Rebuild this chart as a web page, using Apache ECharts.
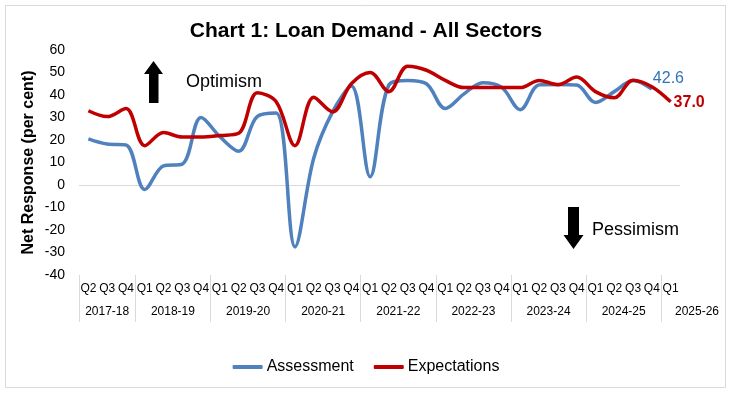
<!DOCTYPE html>
<html>
<head>
<meta charset="utf-8">
<script src="https://cdn.jsdelivr.net/npm/echarts@6/dist/echarts.min.js"></script>
<style>
html,body{margin:0;padding:0;background:#fff;}
#c{width:732px;height:395px;}
</style>
</head>
<body>
<div id="c"></div>
<script>
// ---- data ----
const quarters = ['Q2','Q3','Q4',
  'Q1','Q2','Q3','Q4','Q1','Q2','Q3','Q4','Q1','Q2','Q3','Q4',
  'Q1','Q2','Q3','Q4','Q1','Q2','Q3','Q4','Q1','Q2','Q3','Q4',
  'Q1','Q2','Q3','Q4','Q1'];
const years = ['2017-18','2018-19','2019-20','2020-21','2021-22','2022-23','2023-24','2024-25','2025-26'];
const yearSizes = [3,4,4,4,4,4,4,4,1];
const assessment = [20.5,18.2,17.8,-2,8.5,9.3,30,21.5,15,30.5,32,-27.5,12,32.5,44,3.7,
  44.5,46.5,45,34,40.5,45.5,43.5,33.5,44.5,44.7,44.4,36.7,41.5,46.5,42.6];
const expectations = [33,30.4,34,17.5,23.3,21.3,21.3,22,23,41,37,17.5,39,32.5,45,50,
  41.5,52.8,51,46.5,43.3,43.3,43.3,43.3,46.5,44.6,48,41.5,38.8,46.6,43.7,37.0];
const yTicks = [-40,-30,-20,-10,0,10,20,30,40,50,60];

// ---- build ----
const boundaries = [0];
const centers = [];
const yearAt = {};
let acc = 0;
yearSizes.forEach((s,i)=>{
  const c = (i === yearSizes.length-1) ? acc + s : acc + s/2;
  centers.push(c); yearAt[c] = years[i];
  acc += s;
  if (i < yearSizes.length-1) boundaries.push(acc);
});
const nQ = quarters.length;

const blue = '#4F81BD', red = '#C00000';
const chart = echarts.init(document.getElementById('c'), null, {renderer:'canvas'});
const FONT = '"Liberation Sans", Arial, sans-serif';
chart.setOption({
  animation:false,
  backgroundColor:'#fff',
  textStyle:{fontFamily:FONT},
  title:{text:'Chart 1: Loan Demand - All Sectors', left:'center', top:21, padding:0,
    textStyle:{fontSize:21, fontWeight:'bold', color:'#000', fontFamily:FONT}},
  grid:{left:79, right:52, top:50, bottom:120, containLabel:false},
  legend:{bottom:15, left:'center', icon:'roundRect', itemWidth:30, itemHeight:4, itemGap:20,
    textStyle:{fontSize:16, color:'#000', fontFamily:FONT, padding:[0,0,0,-1]},
    data:['Assessment','Expectations']},
  xAxis:[
    {type:'category', data:quarters, boundaryGap:true, position:'bottom',
     axisLine:{show:false}, axisTick:{show:false}, splitLine:{show:false},
     axisLabel:{interval:0, fontSize:12, color:'#000', margin:8, fontFamily:FONT}},
    {type:'value', min:0, max:nQ, position:'bottom',
     axisLine:{show:false}, splitLine:{show:false},
     axisTick:{show:true, customValues:boundaries, length:47, lineStyle:{color:'#D9D9D9', width:1}},
     axisLabel:{customValues:centers, fontSize:12, color:'#000', margin:31, fontFamily:FONT,
       formatter:function(v){ const t = yearAt[v]; if(!t) return ''; return v===nQ ? '{r|'+t+'}' : t; },
       rich:{r:{fontSize:12, color:'#000', padding:[0,0,0,34], fontFamily:FONT}}}}
  ],
  yAxis:{type:'value', min:yTicks[0], max:yTicks[yTicks.length-1], interval:10,
    name:'Net Response (per cent)', nameLocation:'middle', nameGap:42, nameMoveOverlap:false,
    nameTextStyle:{fontSize:16, fontWeight:'bold', color:'#000', fontFamily:FONT},
    axisLine:{show:false}, axisTick:{show:false},
    axisLabel:{fontSize:14, color:'#000', margin:14, fontFamily:FONT},
    splitLine:{show:true, lineStyle:{width:1,
      color: yTicks.map(v => v===0 ? '#D9D9D9' : 'rgba(0,0,0,0)')}}},
  series:[
    {name:'Assessment', type:'line', xAxisIndex:0, smooth:0.35, showSymbol:false,
     lineStyle:{color:blue, width:3.5}, itemStyle:{color:blue},
     endLabel:{show:true, offset:[-7,-11], color:'#2E75B6', fontSize:16, fontFamily:FONT,
       formatter:p=>Number(p.value).toFixed(1)},
     data:assessment},
    {name:'Expectations', type:'line', xAxisIndex:0, smooth:0.35, showSymbol:false,
     lineStyle:{color:red, width:3.5}, itemStyle:{color:red},
     endLabel:{show:true, offset:[-5,1], color:red, fontSize:16, fontWeight:'bold', fontFamily:FONT,
       formatter:p=>Number(p.value).toFixed(1)},
     data:expectations}
  ],
  graphic:[
    {type:'rect', shape:{x:5.5, y:5.5, width:720, height:382}, style:{fill:'none', stroke:'#D9D9D9', lineWidth:1}, z:-1},
    {type:'polygon', shape:{points:[[153.5,61],[144,74],[149,74],[149,103],[158.5,103],[158.5,74],[163,74]]}, style:{fill:'#000'}},
    {type:'text', left:186, top:73, style:{text:'Optimism', fontSize:18, fill:'#000', fontFamily:FONT}},
    {type:'polygon', shape:{points:[[568,207],[579,207],[579,235],[583.5,235],[573.5,249],[563.5,235],[568,235]]}, style:{fill:'#000'}},
    {type:'text', left:592, top:221, style:{text:'Pessimism', fontSize:18, fill:'#000', fontFamily:FONT}}
  ]
});
</script>
</body>
</html>
